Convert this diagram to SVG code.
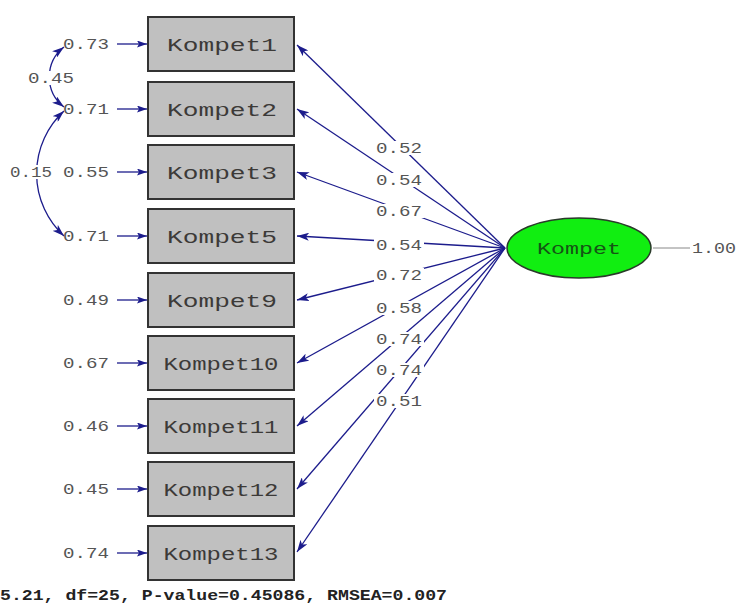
<svg xmlns="http://www.w3.org/2000/svg" width="739" height="606" viewBox="0 0 739 606">
<style>
.box{fill:#c0c0c0;stroke:#333;stroke-width:2}
.bt{font-family:"Liberation Mono",monospace;font-size:19px;fill:#3c3a38;text-anchor:middle}
.lab{font-family:"Liberation Mono",monospace;font-size:15px;fill:#555;text-anchor:middle}
.ln{stroke:#1c1c8c;stroke-width:1.3;fill:none}
.bg{fill:#fff}
</style>
<defs>
<marker id="ah" viewBox="0 0 12 8" refX="12" refY="4" markerWidth="12" markerHeight="8" markerUnits="userSpaceOnUse" orient="auto-start-reverse">
<path d="M0,0 L12,4 L0,8 L3,4 Z" fill="#1c1c8c"/>
</marker>
<marker id="as" viewBox="0 0 10 7" refX="10" refY="3.5" markerWidth="10" markerHeight="7" markerUnits="userSpaceOnUse" orient="auto">
<path d="M0,0 L10,3.5 L0,7 L2,3.5 Z" fill="#1c1c8c"/>
</marker>
</defs>
<rect width="739" height="606" fill="#fff"/>
<g id="connectors">
<line class="ln" x1="505" y1="248" x2="297" y2="45" marker-end="url(#ah)"/>
<line class="ln" x1="505" y1="248" x2="297" y2="109" marker-end="url(#ah)"/>
<line class="ln" x1="505" y1="248" x2="297" y2="172" marker-end="url(#ah)"/>
<line class="ln" x1="505" y1="248" x2="297" y2="236" marker-end="url(#ah)"/>
<line class="ln" x1="505" y1="248" x2="297" y2="300" marker-end="url(#ah)"/>
<line class="ln" x1="505" y1="248" x2="297" y2="363" marker-end="url(#ah)"/>
<line class="ln" x1="505" y1="248" x2="297" y2="426" marker-end="url(#ah)"/>
<line class="ln" x1="505" y1="248" x2="297" y2="489" marker-end="url(#ah)"/>
<line class="ln" x1="505" y1="248" x2="297" y2="552" marker-end="url(#ah)"/>
<line class="ln" x1="117" y1="44" x2="147" y2="44" marker-end="url(#as)"/>
<line class="ln" x1="117" y1="109" x2="147" y2="109" marker-end="url(#as)"/>
<line class="ln" x1="117" y1="172" x2="147" y2="172" marker-end="url(#as)"/>
<line class="ln" x1="117" y1="236" x2="147" y2="236" marker-end="url(#as)"/>
<line class="ln" x1="117" y1="300" x2="147" y2="300" marker-end="url(#as)"/>
<line class="ln" x1="117" y1="363" x2="147" y2="363" marker-end="url(#as)"/>
<line class="ln" x1="117" y1="426" x2="147" y2="426" marker-end="url(#as)"/>
<line class="ln" x1="117" y1="489" x2="147" y2="489" marker-end="url(#as)"/>
<line class="ln" x1="117" y1="553" x2="147" y2="553" marker-end="url(#as)"/>
<path class="ln" d="M64,47 A38,38 0 0 0 64,107" marker-start="url(#ah)" marker-end="url(#ah)"/>
<path class="ln" d="M64,111 A85,85 0 0 0 64,236" marker-start="url(#ah)" marker-end="url(#ah)"/>
<line x1="653" y1="248" x2="690" y2="248" stroke="#888" stroke-width="1"/>
<g>
<rect class="bg" x="374" y="141" width="50" height="14"/><text class="lab" x="399" y="153" textLength="46" lengthAdjust="spacingAndGlyphs">0.52</text>
<rect class="bg" x="374" y="173" width="50" height="14"/><text class="lab" x="399" y="185" textLength="46" lengthAdjust="spacingAndGlyphs">0.54</text>
<rect class="bg" x="374" y="204" width="50" height="14"/><text class="lab" x="399" y="216" textLength="46" lengthAdjust="spacingAndGlyphs">0.67</text>
<rect class="bg" x="374" y="238" width="50" height="14"/><text class="lab" x="399" y="250" textLength="46" lengthAdjust="spacingAndGlyphs">0.54</text>
<rect class="bg" x="374" y="268" width="50" height="14"/><text class="lab" x="399" y="280" textLength="46" lengthAdjust="spacingAndGlyphs">0.72</text>
<rect class="bg" x="374" y="301" width="50" height="14"/><text class="lab" x="399" y="313" textLength="46" lengthAdjust="spacingAndGlyphs">0.58</text>
<rect class="bg" x="374" y="332" width="50" height="14"/><text class="lab" x="399" y="344" textLength="46" lengthAdjust="spacingAndGlyphs">0.74</text>
<rect class="bg" x="374" y="363" width="50" height="14"/><text class="lab" x="399" y="375" textLength="46" lengthAdjust="spacingAndGlyphs">0.74</text>
<rect class="bg" x="374" y="394" width="50" height="14"/><text class="lab" x="399" y="406" textLength="46" lengthAdjust="spacingAndGlyphs">0.51</text>
<rect class="bg" x="26" y="71" width="50" height="14"/><text class="lab" x="51" y="83" textLength="46" lengthAdjust="spacingAndGlyphs">0.45</text>
<rect class="bg" x="8" y="165" width="46" height="14"/><text class="lab" x="31" y="177" textLength="42" lengthAdjust="spacingAndGlyphs">0.15</text>
</g>
</g>
<g id="e1"><text class="lab" x="86" y="49" textLength="46" lengthAdjust="spacingAndGlyphs">0.73</text></g>
<g id="e2"><text class="lab" x="86" y="114" textLength="46" lengthAdjust="spacingAndGlyphs">0.71</text></g>
<g id="e3"><text class="lab" x="86" y="177" textLength="46" lengthAdjust="spacingAndGlyphs">0.55</text></g>
<g id="e5"><text class="lab" x="86" y="241" textLength="46" lengthAdjust="spacingAndGlyphs">0.71</text></g>
<g id="e9"><text class="lab" x="86" y="305" textLength="46" lengthAdjust="spacingAndGlyphs">0.49</text></g>
<g id="e10"><text class="lab" x="86" y="368" textLength="46" lengthAdjust="spacingAndGlyphs">0.67</text></g>
<g id="e11"><text class="lab" x="86" y="431" textLength="46" lengthAdjust="spacingAndGlyphs">0.46</text></g>
<g id="e12"><text class="lab" x="86" y="494" textLength="46" lengthAdjust="spacingAndGlyphs">0.45</text></g>
<g id="e13"><text class="lab" x="86" y="558" textLength="46" lengthAdjust="spacingAndGlyphs">0.74</text></g>
<g id="Kompet1"><rect class="box" x="148" y="17" width="146" height="54"/><text class="bt" x="222" y="51" textLength="110" lengthAdjust="spacingAndGlyphs">Kompet1</text></g>
<g id="Kompet2"><rect class="box" x="148" y="82" width="146" height="54"/><text class="bt" x="222" y="116" textLength="110" lengthAdjust="spacingAndGlyphs">Kompet2</text></g>
<g id="Kompet3"><rect class="box" x="148" y="145" width="146" height="54"/><text class="bt" x="222" y="179" textLength="110" lengthAdjust="spacingAndGlyphs">Kompet3</text></g>
<g id="Kompet5"><rect class="box" x="148" y="209" width="146" height="54"/><text class="bt" x="222" y="243" textLength="110" lengthAdjust="spacingAndGlyphs">Kompet5</text></g>
<g id="Kompet9"><rect class="box" x="148" y="273" width="146" height="54"/><text class="bt" x="222" y="307" textLength="110" lengthAdjust="spacingAndGlyphs">Kompet9</text></g>
<g id="Kompet10"><rect class="box" x="148" y="336" width="146" height="54"/><text class="bt" x="221" y="370" textLength="115" lengthAdjust="spacingAndGlyphs">Kompet10</text></g>
<g id="Kompet11"><rect class="box" x="148" y="399" width="146" height="54"/><text class="bt" x="221" y="433" textLength="115" lengthAdjust="spacingAndGlyphs">Kompet11</text></g>
<g id="Kompet12"><rect class="box" x="148" y="462" width="146" height="54"/><text class="bt" x="221" y="496" textLength="115" lengthAdjust="spacingAndGlyphs">Kompet12</text></g>
<g id="Kompet13"><rect class="box" x="148" y="526" width="146" height="54"/><text class="bt" x="221" y="560" textLength="115" lengthAdjust="spacingAndGlyphs">Kompet13</text></g>
<g id="Kompet"><ellipse cx="579" cy="248" rx="72" ry="30" fill="#11ee11" stroke="#2a3a2a" stroke-width="1.5"/><text x="579" y="254" font-family="Liberation Mono,monospace" font-size="17" fill="#155515" text-anchor="middle" textLength="84" lengthAdjust="spacingAndGlyphs">Kompet</text></g>
<g id="var"><text class="lab" x="714" y="253" textLength="44" lengthAdjust="spacingAndGlyphs">1.00</text></g>
<text x="0" y="600" font-family="Liberation Mono,monospace" font-weight="bold" font-size="15" fill="#222" textLength="447" lengthAdjust="spacingAndGlyphs">5.21, df=25, P-value=0.45086, RMSEA=0.007</text>
</svg>
